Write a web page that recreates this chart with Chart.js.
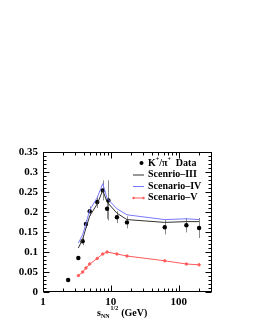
<!DOCTYPE html>
<html>
<head>
<meta charset="utf-8">
<script src="https://cdn.jsdelivr.net/npm/chart.js@4"></script>
<style>
  html, body { margin: 0; padding: 0; background: #fff; }
  #wrap { width: 255px; height: 330px; }
</style>
</head>
<body>
<div id="wrap"><canvas id="myChart" width="255" height="330"></canvas></div>
<script>
// measured K+/pi+ ratio
const dataEnergy = [2.35, 3.32, 3.84, 4.3, 4.88, 6.3, 7.6, 8.8, 9.2, 12.3, 17.3, 62.4, 130, 200];
const dataRatio  = [0.030, 0.085, 0.127, 0.170, 0.202, 0.225, 0.254, 0.208, 0.229, 0.187, 0.174, 0.162, 0.167, 0.160];
const dataError  = [0.002, 0.004, 0.010, 0.010, 0.012, 0.015, 0.025, 0.025, 0.050, 0.015, 0.015, 0.018, 0.018, 0.025];

// model curves
const modelEnergy = [3.32, 3.84, 4.3, 4.88, 6.3, 7.6, 8.8, 12.3, 17.3, 62.4, 130, 200];
const scenario3 = [0.110, 0.132, 0.160, 0.190, 0.220, 0.254, 0.225, 0.197, 0.181, 0.174, 0.176, 0.176];
const scenario4 = [0.122, 0.143, 0.171, 0.205, 0.236, 0.271, 0.234, 0.208, 0.193, 0.181, 0.183, 0.181];
const scenario5 = [0.041, 0.050, 0.060, 0.070, 0.084, 0.095, 0.100, 0.095, 0.090, 0.078, 0.070, 0.068];

const xTickLabels = [1, 10, 100];
const yTickLabels = [0, 0.05, 0.1, 0.15, 0.2, 0.25, 0.3, 0.35];

const SERIF = '"Liberation Serif", "Times New Roman", serif';

const pts = (xs, ys) => xs.map((x, i) => ({ x: x, y: ys[i] }));

// error bars under the data points
const errorBars = {
    id: 'errorBars',
    beforeDatasetsDraw(chart) {
        const { ctx, scales: { x, y } } = chart;
        ctx.save();
        ctx.strokeStyle = '#8a8a8a';
        ctx.lineWidth = 1;
        dataEnergy.forEach((e, i) => {
            const px = Math.round(x.getPixelForValue(e)) + 0.5;
            ctx.beginPath();
            ctx.moveTo(px, y.getPixelForValue(dataRatio[i] - dataError[i]));
            ctx.lineTo(px, y.getPixelForValue(dataRatio[i] + dataError[i]));
            ctx.stroke();
        });
        ctx.restore();
    }
};

// ROOT style frame with inward ticks on all four sides
const frame = {
    id: 'frame',
    afterDraw(chart) {
        const { ctx, chartArea: a, scales: { x, y } } = chart;
        ctx.save();
        ctx.strokeStyle = '#000';
        ctx.lineWidth = 1;
        const L = Math.round(a.left) + 0.5, R = Math.round(a.right) - 0.5;
        const T = Math.round(a.top) + 0.5, B = Math.round(a.bottom) - 0.5;
        ctx.strokeRect(L, T, R - L, B - T);
        ctx.beginPath();
        for (let d = 1; d <= 100; d *= 10) {
            for (let m = 1; m <= 9; m++) {
                const v = d * m;
                if (v > x.max) break;
                const px = Math.round(x.getPixelForValue(v)) + 0.5;
                const len = m === 1 ? 6 : 3;
                ctx.moveTo(px, B); ctx.lineTo(px, B - len);
                ctx.moveTo(px, T); ctx.lineTo(px, T + len);
            }
        }
        for (let k = 0; k <= 35; k++) {
            const py = Math.round(y.getPixelForValue(k / 100)) + 0.5;
            const len = k % 5 === 0 ? 6 : 3;
            ctx.moveTo(L, py); ctx.lineTo(L + len, py);
            ctx.moveTo(R, py); ctx.lineTo(R - len, py);
        }
        ctx.stroke();
        ctx.restore();
    }
};

// legend and axis title with sub/superscripts
const annotations = {
    id: 'annotations',
    afterDraw(chart) {
        const ctx = chart.ctx;
        ctx.save();
        ctx.fillStyle = '#000';
        ctx.textBaseline = 'middle';
        ctx.textAlign = 'left';
        const big = 'bold 10px ' + SERIF;
        const small = 'bold 6px ' + SERIF;
        const run = (parts, x0, y0) => {
            let cx = x0;
            parts.forEach(p => {
                ctx.font = p.s ? small : big;
                ctx.fillText(p.t, cx, y0 + (p.dy || 0));
                cx += ctx.measureText(p.t).width + (p.gap || 0);
            });
        };

        const tx = 148;
        const rows = [163, 174.5, 186, 197.5];

        // data entry
        ctx.beginPath();
        ctx.arc(141.5, rows[0], 2, 0, Math.PI * 2);
        ctx.fill();
        run([{ t: 'K' }, { t: '+', s: true, dy: -4 }, { t: '/\u03c0' }, { t: '+', s: true, dy: -4 }, { t: '  Data' }], tx, rows[0]);

        const lineEntry = (row, color, label, marker) => {
            ctx.strokeStyle = color;
            ctx.lineWidth = 1;
            ctx.beginPath();
            ctx.moveTo(133, row + 0.5);
            ctx.lineTo(144, row + 0.5);
            ctx.stroke();
            if (marker) {
                ctx.fillStyle = color;
                ctx.beginPath();
                ctx.arc(133.5, row + 0.5, 1.2, 0, Math.PI * 2);
                ctx.arc(143.5, row + 0.5, 1.2, 0, Math.PI * 2);
                ctx.fill();
            }
            ctx.fillStyle = '#000';
            run([{ t: label }], tx, row);
        };
        lineEntry(rows[1], '#333333', 'Scenrio\u2013III', false);
        lineEntry(rows[2], '#7878ff', 'Scenario\u2013IV', false);
        lineEntry(rows[3], '#ff5a5a', 'Scenario\u2013V', true);

        // x axis title
        run([{ t: 's' }, { t: 'NN', s: true, dy: 3, gap: 1 }, { t: '1/2', s: true, dy: -5, gap: 3 }, { t: '(GeV)' }], 97, 313);
        ctx.restore();
    }
};

document.addEventListener('DOMContentLoaded', () => {
    const ctx = document.getElementById('myChart').getContext('2d');
    new Chart(ctx, {
        type: 'scatter',
        data: {
            datasets: [
                {
                    label: 'Scenario-V',
                    data: pts(modelEnergy, scenario5),
                    showLine: true,
                    borderColor: '#ff5a5a',
                    backgroundColor: '#ff5a5a',
                    borderWidth: 1,
                    pointRadius: 1.2,
                    pointStyle: 'circle'
                },
                {
                    label: 'Scenario-IV',
                    data: pts(modelEnergy, scenario4),
                    showLine: true,
                    borderColor: '#7878ff',
                    borderWidth: 1,
                    pointRadius: 0
                },
                {
                    label: 'Scenrio-III',
                    data: pts(modelEnergy, scenario3),
                    showLine: true,
                    borderColor: '#333333',
                    borderWidth: 1,
                    pointRadius: 0
                },
                {
                    label: 'K+/pi+ Data',
                    data: pts(dataEnergy, dataRatio),
                    showLine: false,
                    backgroundColor: '#000',
                    borderColor: '#000',
                    pointRadius: 2.2,
                    pointBorderWidth: 0
                }
            ]
        },
        plugins: [errorBars, frame, annotations],
        options: {
            responsive: false,
            animation: false,
            layout: { padding: { left: 0, right: 43, top: 152, bottom: 0 } },
            plugins: { legend: { display: false }, tooltip: { enabled: false } },
            scales: {
                x: {
                    type: 'logarithmic',
                    min: 1,
                    max: 310,
                    grid: { display: false, drawTicks: false },
                    border: { display: false },
                    afterFit: (s) => { s.height = 38; },
                    afterBuildTicks: (s) => { s.ticks = xTickLabels.map(v => ({ value: v })); },
                    ticks: {
                        autoSkip: false,
                        maxRotation: 0,
                        padding: 4,
                        color: '#000',
                        font: { family: SERIF, size: 11, weight: 'bold' },
                        callback: (v) => String(v)
                    }
                },
                y: {
                    min: 0,
                    max: 0.35,
                    grid: { display: false, drawTicks: false },
                    border: { display: false },
                    afterFit: (s) => { s.width = 43; },
                    afterBuildTicks: (s) => { s.ticks = yTickLabels.map(v => ({ value: v })); },
                    ticks: {
                        padding: 5,
                        color: '#000',
                        font: { family: SERIF, size: 11, weight: 'bold' },
                        callback: (v) => String(+v.toFixed(2))
                    }
                }
            }
        }
    });
});
</script>
</body>
</html>
